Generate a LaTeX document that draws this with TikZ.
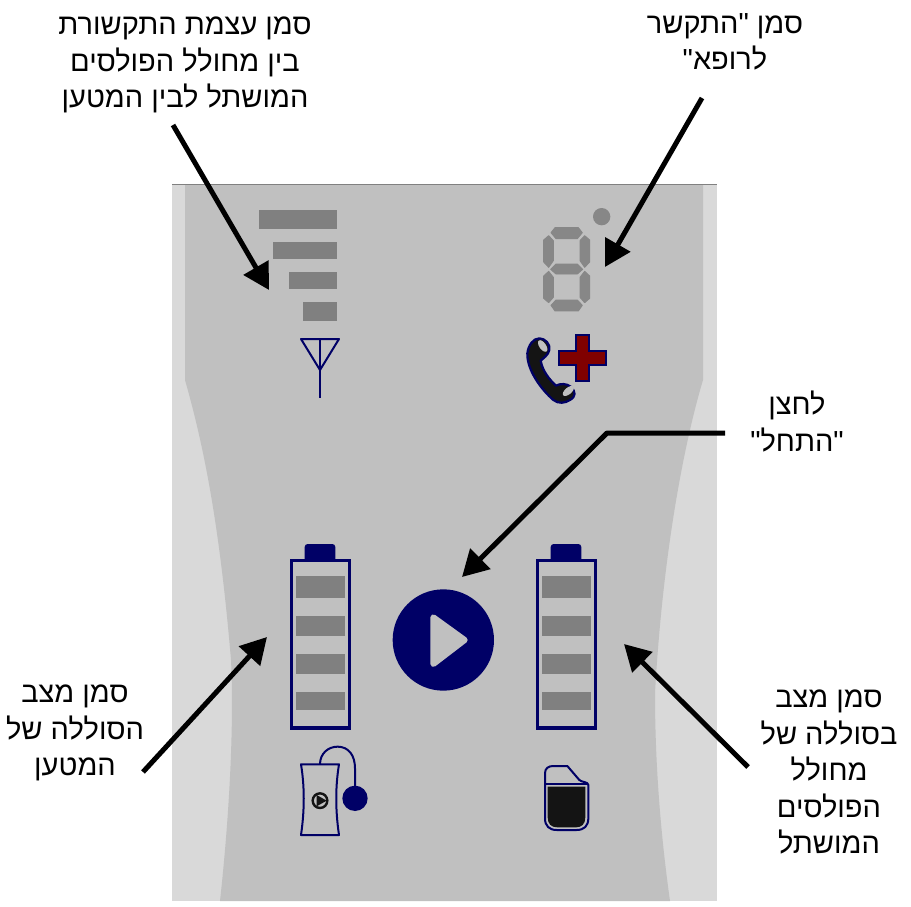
\documentclass[tikz,border=0pt]{standalone}
\usepackage{fontspec}
\usetikzlibrary{arrows.meta}
\TeXXeTstate=1
\newfontfamily\hebfont[Script=Hebrew]{Liberation Sans}
\definecolor{panelout}{HTML}{D9D9D9}
\definecolor{panelin}{HTML}{C0C0C0}
\definecolor{barcol}{HTML}{808080}
\definecolor{segcol}{HTML}{878787}
\definecolor{navyc}{HTML}{000066}
\definecolor{crossred}{HTML}{800000}
\definecolor{inkc}{HTML}{141414}
\tikzset{
  label/.style={align=center,inner sep=0pt,anchor=north,text=black,
    font={\hebfont\fontsize{29}{36.5}\selectfont}},
  callout/.style={draw=black,line width=5pt,-{Triangle[length=26pt,width=28pt]}},
  bar/.style={fill=barcol},
  seg/.style={fill=segcol,draw=segcol,line width=0.9pt,line join=round},
  navyline/.style={draw=navyc,line width=2pt},
  zoomed/.style={x=0.33333pt,y=-0.33333pt}
}
\newcommand{\batteryicon}{%
  \fill[navyc,rounded corners=3pt] (104,95) -- (104,42) -- (196,42) -- (196,95) -- cycle;
  \draw[draw=navyc,line width=3.4pt] (65,92) rectangle (238,594);
  \fill[bar] (77,138) rectangle (225,205);
  \fill[bar] (77,258) rectangle (225,318);
  \fill[bar] (77,372) rectangle (225,432);
  \fill[bar] (77,485) rectangle (225,540);
}
\begin{document}
\begin{tikzpicture}[x=1pt,y=-1pt]
\useasboundingbox (0,0) rectangle (911,907);
% panel
\fill[panelout] (172,184) rectangle (717,901);
\fill[panelin] (185,184) -- (185,380)
  .. controls (205,450) and (220,530) .. (231,660)
  .. controls (234,720) and (230,810) .. (220,901)
  -- (670,901)
  .. controls (660,830) and (655,760) .. (655,693)
  .. controls (663,550) and (685,440) .. (703,380)
  -- (703,184) -- cycle;
\draw[draw=barcol,line width=1.5pt] (172,184.5) -- (717,184.5);
% signal bars
\fill[bar] (259,210) rectangle (337,229);
\fill[bar] (273,242) rectangle (337,259);
\fill[bar] (289,272) rectangle (337,289);
\fill[bar] (303,302) rectangle (337,321);
% antenna
\draw[navyline,line join=round] (301,339) -- (339,339) -- (320,370) -- cycle;
\draw[navyline] (320,339) -- (320,398);
% digit, dot, phone, cross
\begin{scope}[shift={(500,190)},zoomed]
  \fill[segcol] (305,80) circle (26);
  \filldraw[seg] (165,113) -- (235,113) -- (247,128) -- (232,146) -- (168,146) -- (153,128) -- cycle;
  \filldraw[seg] (146,137) -- (160,152) -- (160,212) -- (146,232) -- (131,216) -- (131,150) -- cycle;
  \filldraw[seg] (254,137) -- (269,150) -- (269,216) -- (254,232) -- (240,212) -- (240,152) -- cycle;
  \filldraw[seg] (168,222) -- (232,222) -- (248,238) -- (232,252) -- (168,252) -- (152,238) -- cycle;
  \filldraw[seg] (146,244) -- (160,262) -- (160,322) -- (146,338) -- (131,325) -- (131,258) -- cycle;
  \filldraw[seg] (254,244) -- (269,258) -- (269,325) -- (254,338) -- (240,322) -- (240,262) -- cycle;
  \filldraw[seg] (168,330) -- (232,330) -- (247,346) -- (235,363) -- (165,363) -- (153,346) -- cycle;
  % cross
  \filldraw[fill=crossred,draw=navyc,line width=2pt]
    (227,434) -- (268,434) -- (268,483) -- (318,483) -- (318,524) -- (268,524)
    -- (268,573) -- (227,573) -- (227,524) -- (177,524) -- (177,483) -- (227,483) -- cycle;
  % phone
  \filldraw[fill=inkc,draw=navyc,line width=2.2pt,line join=round]
    (82,490) .. controls (85,465) and (100,445) .. (118,445)
    .. controls (135,445) and (152,462) .. (148,480)
    .. controls (145,495) and (130,505) .. (122,512)
    .. controls (128,545) and (150,570) .. (168,587)
    .. controls (180,580) and (200,580) .. (212,590)
    .. controls (228,605) and (228,620) .. (210,630)
    .. controls (195,640) and (175,642) .. (160,630)
    .. controls (125,600) and (80,540) .. (82,490) -- cycle;
  \fill[panelin,rotate around={35:(128,468)}] (128,468) ellipse (10 and 20);
  \fill[panelin,rotate around={-50:(205,603)}] (205,603) ellipse (10 and 20);
\end{scope}
% left battery, start button, charger
\begin{scope}[shift={(270,530)},zoomed]
  \batteryicon
  \fill[navyc] (520,330) circle (152);
  \filldraw[fill=panelin,draw=panelin,line width=6pt,line join=round]
    (490,262) -- (584,330) -- (490,402) -- cycle;
  \draw[navyline,line join=round]
    (93,703) -- (207,703) .. controls (196,770) and (196,840) .. (207,915)
    -- (93,915) .. controls (104,840) and (104,770) .. (93,703) -- cycle;
  \draw[navyline] (150,703) .. controls (150,670) and (175,650) .. (203,650)
    .. controls (235,650) and (255,675) .. (255,715) -- (255,775);
  \fill[navyc] (255,805) circle (38);
  \draw[draw=inkc,line width=2.4pt] (150,812) circle (22);
  \fill[inkc] (140,795) -- (170,812) -- (140,829) -- cycle;
\end{scope}
% right battery, pulse generator pack
\begin{scope}[shift={(516,530)},zoomed]
  \batteryicon
\end{scope}
\begin{scope}[shift={(510,530)},zoomed]
  \draw[navyline,line join=round]
    (105,865) -- (105,730) .. controls (105,715) and (115,708) .. (130,708)
    -- (172,708) -- (208,750) .. controls (215,757) and (235,755) .. (235,765)
    -- (235,865) .. controls (235,888) and (222,900) .. (200,900)
    -- (140,900) .. controls (118,900) and (105,888) .. (105,865) -- cycle;
  \draw[navyline] (105,763) -- (235,763);
  \fill[inkc] (113,770) -- (226,770) -- (226,862) .. controls (226,882) and (215,892) .. (198,892)
    -- (142,892) .. controls (124,892) and (113,882) .. (113,862) -- cycle;
\end{scope}
% labels
\node[label] (signal) at (185,17) {\beginR סמן עצמת התקשורת\endR\\\beginR בין מחולל הפולסים\endR\\\beginR המושתל לבין המטען\endR};
\node[label] (doctor) at (725,13) {\beginR סמן "התקשר\endR\\\beginR לרופא"\endR};
\node[label] (start) at (797,391) {\beginR לחצן\endR\\\beginR "התחל"\endR};
\node[label] (charger) at (75,685) {\beginR סמן מצב\endR\\\beginR הסוללה של\endR\\\beginR המטען\endR};
\node[label] (implant) at (829,690) {\beginR סמן מצב\endR\\\beginR בסוללה של\endR\\\beginR מחולל\endR\\\beginR הפולסים\endR\\\beginR המושתל\endR};
% callouts
\coordinate (sigfrom) at (173,125);
\coordinate (sigto) at (269,290);
\coordinate (docfrom) at (702,98);
\coordinate (docto) at (605,267);
\coordinate (startfrom) at (725,433);
\coordinate (startbend) at (607,433);
\coordinate (startto) at (462,577);
\coordinate (chgfrom) at (143,772);
\coordinate (chgto) at (267,637);
\coordinate (impfrom) at (748,767);
\coordinate (impto) at (624,644);
\draw[callout] (sigfrom) -- (sigto);
\draw[callout] (docfrom) -- (docto);
\draw[callout,line join=round] (startfrom) -- (startbend) -- (startto);
\draw[callout] (chgfrom) -- (chgto);
\draw[callout] (impfrom) -- (impto);
\end{tikzpicture}
\end{document}
